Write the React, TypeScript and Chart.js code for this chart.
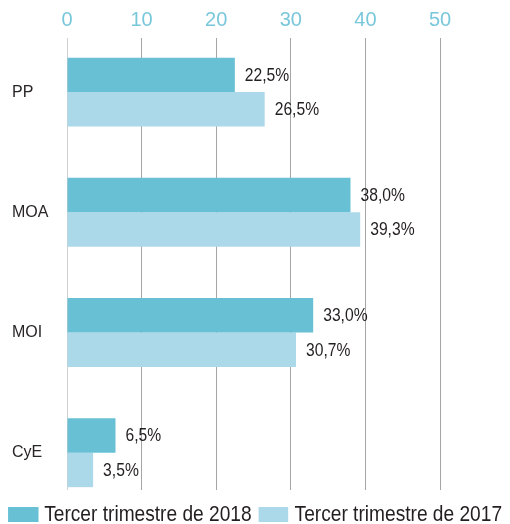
import React, { useEffect, useRef } from 'react';
import { Chart, registerables } from 'chart.js';

Chart.register(...registerables);

const categories = ['PP', 'MOA', 'MOI', 'CyE'];
const seriesLabels = ['Tercer trimestre de 2018', 'Tercer trimestre de 2017'];
const values2018 = [22.5, 38.0, 33.0, 6.5];
const values2017 = [26.5, 39.3, 30.7, 3.5];
const xTicks = [0, 10, 20, 30, 40, 50];

const COLORS = ['#67c0d4', '#acd9ea'];
const FONT = "'Liberation Sans', Arial, sans-serif";
const TEXT = '#231f20';
const SQUEEZE = 0.87;

const valueLabels = {
  id: 'valueLabels',
  afterDatasetsDraw(chart: any) {
    const ctx = chart.ctx;
    chart.data.datasets.forEach((ds: any, di: number) => {
      const meta = chart.getDatasetMeta(di);
      meta.data.forEach((bar: any, i: number) => {
        const v = ds.data[i].x as number;
        ctx.save();
        ctx.font = `18px ${FONT}`;
        ctx.fillStyle = TEXT;
        ctx.textAlign = 'left';
        ctx.textBaseline = 'middle';
        ctx.translate(bar.x + 10, bar.y + 1);
        ctx.scale(SQUEEZE, 1);
        ctx.fillText(v.toFixed(1).replace('.', ',') + '%', 0, 0);
        ctx.restore();
      });
    });
  },
};

export default function App() {
  const ref = useRef<HTMLCanvasElement | null>(null);

  useEffect(() => {
    document.body.style.margin = '0';
    if (!ref.current) return;
    const chart = new Chart(ref.current, {
      type: 'bar',
      data: {
        datasets: [
          {
            label: seriesLabels[0],
            data: values2018.map((v, i) => ({ x: v, y: i })),
            backgroundColor: COLORS[0],
            borderWidth: 0,
          },
          {
            label: seriesLabels[1],
            data: values2017.map((v, i) => ({ x: v, y: i })),
            backgroundColor: COLORS[1],
            borderWidth: 0,
          },
        ],
      },
      options: {
        indexAxis: 'y',
        responsive: false,
        animation: false,
        layout: { padding: { left: 12, right: 70, top: 6, bottom: 34 } },
        datasets: { bar: { categoryPercentage: 0.573, barPercentage: 1 } },
        plugins: { legend: { display: false }, tooltip: { enabled: false } },
        scales: {
          x: {
            type: 'linear',
            position: 'top',
            min: 0,
            max: 50,
            afterBuildTicks: (s: any) => {
              s.ticks = xTicks.map((v) => ({ value: v }));
            },
            afterFit: (s: any) => {
              s.height = 32;
            },
            ticks: { color: '#79c7db', font: { family: FONT, size: 20 }, padding: 6 },
            grid: {
              color: (c: any) => (c.tick && c.tick.value === 0 ? '#cfcfcf' : '#a5a5a5'),
              drawTicks: false,
              lineWidth: 1,
            },
            border: { display: false },
          },
          y: {
            type: 'linear',
            reverse: true,
            offset: false,
            min: -0.45,
            max: 3.31,
            afterBuildTicks: (s: any) => {
              s.ticks = categories.map((_, i) => ({ value: i }));
            },
            afterFit: (s: any) => {
              s.width = 55;
            },
            ticks: {
              callback: (v: any) => categories[v] ?? '',
              crossAlign: 'far',
              color: '#2a2627',
              font: { family: FONT, size: 16 },
              padding: 0,
            },
            grid: { display: false },
            border: { display: false },
          },
        },
      } as any,
      plugins: [valueLabels],
    });
    return () => chart.destroy();
  }, []);

  return (
    <div style={{ position: 'relative', width: 510, height: 524, background: '#fff', overflow: 'hidden' }}>
      <canvas ref={ref} width={510} height={524} />
      <div
        style={{
          position: 'absolute',
          left: 0,
          top: 503,
          width: 510,
          display: 'flex',
          justifyContent: 'center',
          alignItems: 'center',
          fontFamily: FONT,
          fontSize: 22,
          lineHeight: '22px',
          color: TEXT,
          whiteSpace: 'nowrap',
          transform: `scaleX(${SQUEEZE})`,
          transformOrigin: '256px 50%',
        }}
      >
        {seriesLabels.map((l, i) => (
          <div key={l} style={{ display: 'flex', alignItems: 'center', marginLeft: i ? 7 / SQUEEZE : 0 }}>
            <span
              style={{
                display: 'inline-block',
                width: 30 / SQUEEZE,
                height: 15,
                background: COLORS[i],
                marginRight: 6 / SQUEEZE,
              }}
            />
            <span>{l}</span>
          </div>
        ))}
      </div>
    </div>
  );
}
